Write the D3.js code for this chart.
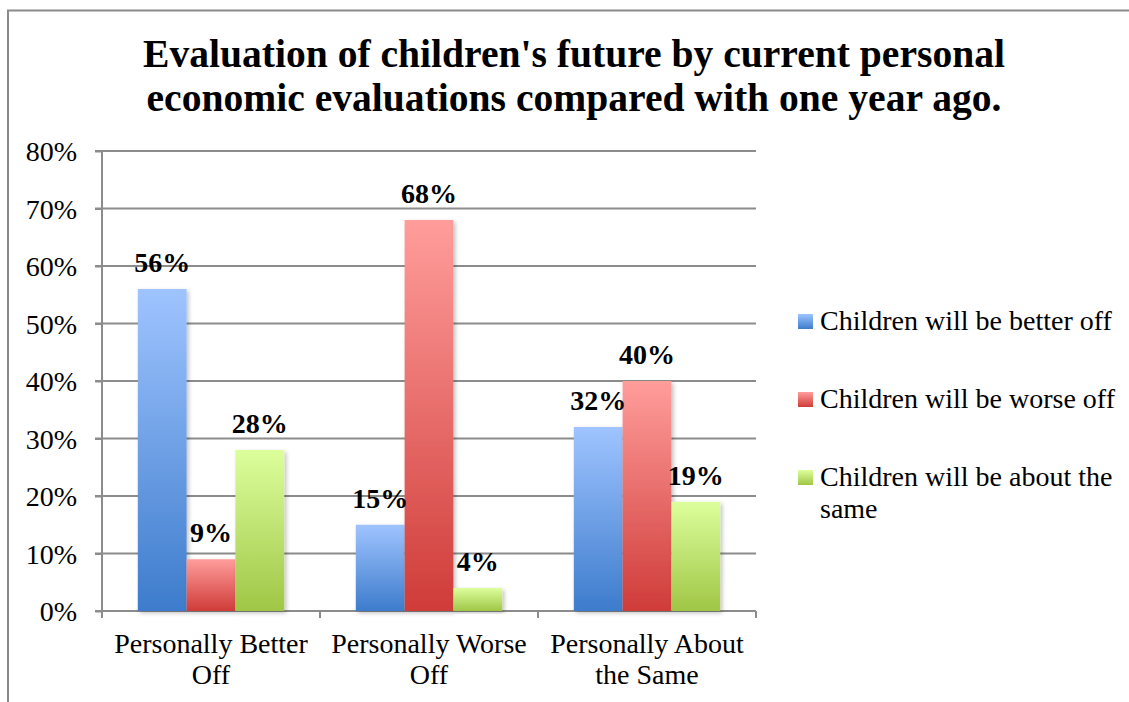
<!DOCTYPE html>
<html><head><meta charset="utf-8">
<script src="https://cdn.jsdelivr.net/npm/d3@7"></script>
<style>body{margin:0;background:#fff}svg{display:block}text{font-family:"Liberation Serif","DejaVu Serif",serif;fill:#000}</style>
</head><body>
<svg id="c" width="1129" height="702"></svg>
<script>
const categories = ["Personally Better Off", "Personally Worse Off", "Personally About the Same"];
const categoryLines = [["Personally Better", "Off"], ["Personally Worse", "Off"], ["Personally About", "the Same"]];
const seriesNames = ["Children will be better off", "Children will be worse off", "Children will be about the same"];
const legendLines = [["Children will be better off"], ["Children will be worse off"], ["Children will be about the", "same"]];
const betterOff = [56, 15, 32];
const worseOff = [9, 68, 40];
const aboutSame = [28, 4, 19];
const yTicks = [0, 10, 20, 30, 40, 50, 60, 70, 80];
const titleLines = ["Evaluation of children's future by current personal", "economic evaluations compared with one year ago."];

const seriesValues = [betterOff, worseOff, aboutSame];
const colors = [["#9fc4ff", "#3d7ccc"], ["#ff9d9b", "#cf3c39"], ["#dcff9c", "#a0c646"]];

const svg = d3.select("#c");
const defs = svg.append("defs");
colors.forEach((c, i) => {
  const g = defs.append("linearGradient").attr("id", "g" + i).attr("x1", 0).attr("y1", 0).attr("x2", 0).attr("y2", 1);
  g.append("stop").attr("offset", "0%").attr("stop-color", c[0]);
  g.append("stop").attr("offset", "100%").attr("stop-color", c[1]);
});
const f = defs.append("filter").attr("id", "sh").attr("x", "-20%").attr("y", "-5%").attr("width", "140%").attr("height", "115%");
f.append("feDropShadow").attr("dx", 2).attr("dy", 2).attr("stdDeviation", 2).attr("flood-color", "#000").attr("flood-opacity", 0.25);

// frame
svg.append("path").attr("d", "M8,702V10.5H1129").attr("fill", "none").attr("stroke", "#8a8a8a").attr("stroke-width", 2);

// title
svg.append("g").selectAll("text").data(titleLines).join("text")
  .attr("x", 574).attr("y", (d, i) => 67 + i * 44)
  .attr("text-anchor", "middle").attr("font-size", 39.6).attr("font-weight", "bold")
  .text(d => d);

const x0 = d3.scaleBand().domain(categories).range([102, 756]).paddingInner(0).paddingOuter(0);
const x1 = d3.scaleBand().domain(seriesNames).range([0, x0.bandwidth()]).paddingInner(0).paddingOuter(0.734);
const y = d3.scaleLinear().domain([0, 80]).range([611, 151]);

// grid
svg.append("g").selectAll("line").data(yTicks).join("line")
  .attr("x1", 95).attr("x2", 756).attr("y1", d => y(d)).attr("y2", d => y(d))
  .attr("stroke", "#8c8c8c").attr("stroke-width", 2);

// y axis
const yAxis = svg.append("g").attr("transform", "translate(102,0)")
  .call(d3.axisLeft(y).tickValues(yTicks).tickSize(7).tickPadding(18).tickFormat(d => d + "%"));
yAxis.attr("font-size", null).attr("font-family", null);
yAxis.select(".domain").remove();
yAxis.selectAll("line").attr("stroke", "#8c8c8c").attr("stroke-width", 2);
yAxis.selectAll("text").attr("font-size", 28).attr("dy", "0.35em");
svg.append("line").attr("x1", 102).attr("x2", 102).attr("y1", y(80)).attr("y2", 618).attr("stroke", "#8c8c8c").attr("stroke-width", 2);

// x boundary ticks
const bounds = categories.map(c => x0(c)).concat([x0(categories[2]) + x0.bandwidth()]);
svg.append("g").selectAll("line").data(bounds.slice(1)).join("line")
  .attr("x1", d => d).attr("x2", d => d).attr("y1", 611).attr("y2", 618)
  .attr("stroke", "#8c8c8c").attr("stroke-width", 2);

// bars
const groups = svg.append("g").selectAll("g").data(categories).join("g")
  .attr("transform", c => `translate(${x0(c)},0)`);
groups.each(function (c, ci) {
  const g = d3.select(this);
  seriesNames.forEach((s, si) => {
    const v = seriesValues[si][ci];
    g.append("rect").attr("x", x1(s)).attr("width", x1.bandwidth())
      .attr("y", y(v)).attr("height", y(0) - y(v))
      .attr("fill", `url(#g${si})`).attr("filter", "url(#sh)");
  });
});
groups.each(function (c, ci) {
  const g = d3.select(this);
  seriesNames.forEach((s, si) => {
    const v = seriesValues[si][ci];
    g.append("text").attr("x", x1(s) + x1.bandwidth() / 2).attr("y", y(v) - 17)
      .attr("text-anchor", "middle").attr("font-size", 28).attr("font-weight", "bold")
      .text(v + "%");
  });
});

// x labels
svg.append("g").selectAll("text").data(categories).join("text")
  .attr("x", c => x0(c) + x0.bandwidth() / 2).attr("y", 653)
  .attr("text-anchor", "middle").attr("font-size", 28)
  .each(function (c, i) {
    d3.select(this).selectAll("tspan").data(categoryLines[i]).join("tspan")
      .attr("x", x0(c) + x0.bandwidth() / 2).attr("dy", (d, j) => j ? 31 : 0).text(d => d);
  });

// legend
const leg = svg.append("g").selectAll("g").data(seriesNames).join("g")
  .attr("transform", (d, i) => `translate(798,${314 + i * 78})`);
leg.append("rect").attr("width", 15).attr("height", 15).attr("fill", (d, i) => `url(#g${i})`);
leg.append("text").attr("x", 22).attr("y", 16).attr("font-size", 28)
  .each(function (d, i) {
    d3.select(this).selectAll("tspan").data(legendLines[i]).join("tspan")
      .attr("x", 22).attr("dy", (t, j) => j ? 31.5 : 0).text(t => t);
  });
</script>
</body></html>
